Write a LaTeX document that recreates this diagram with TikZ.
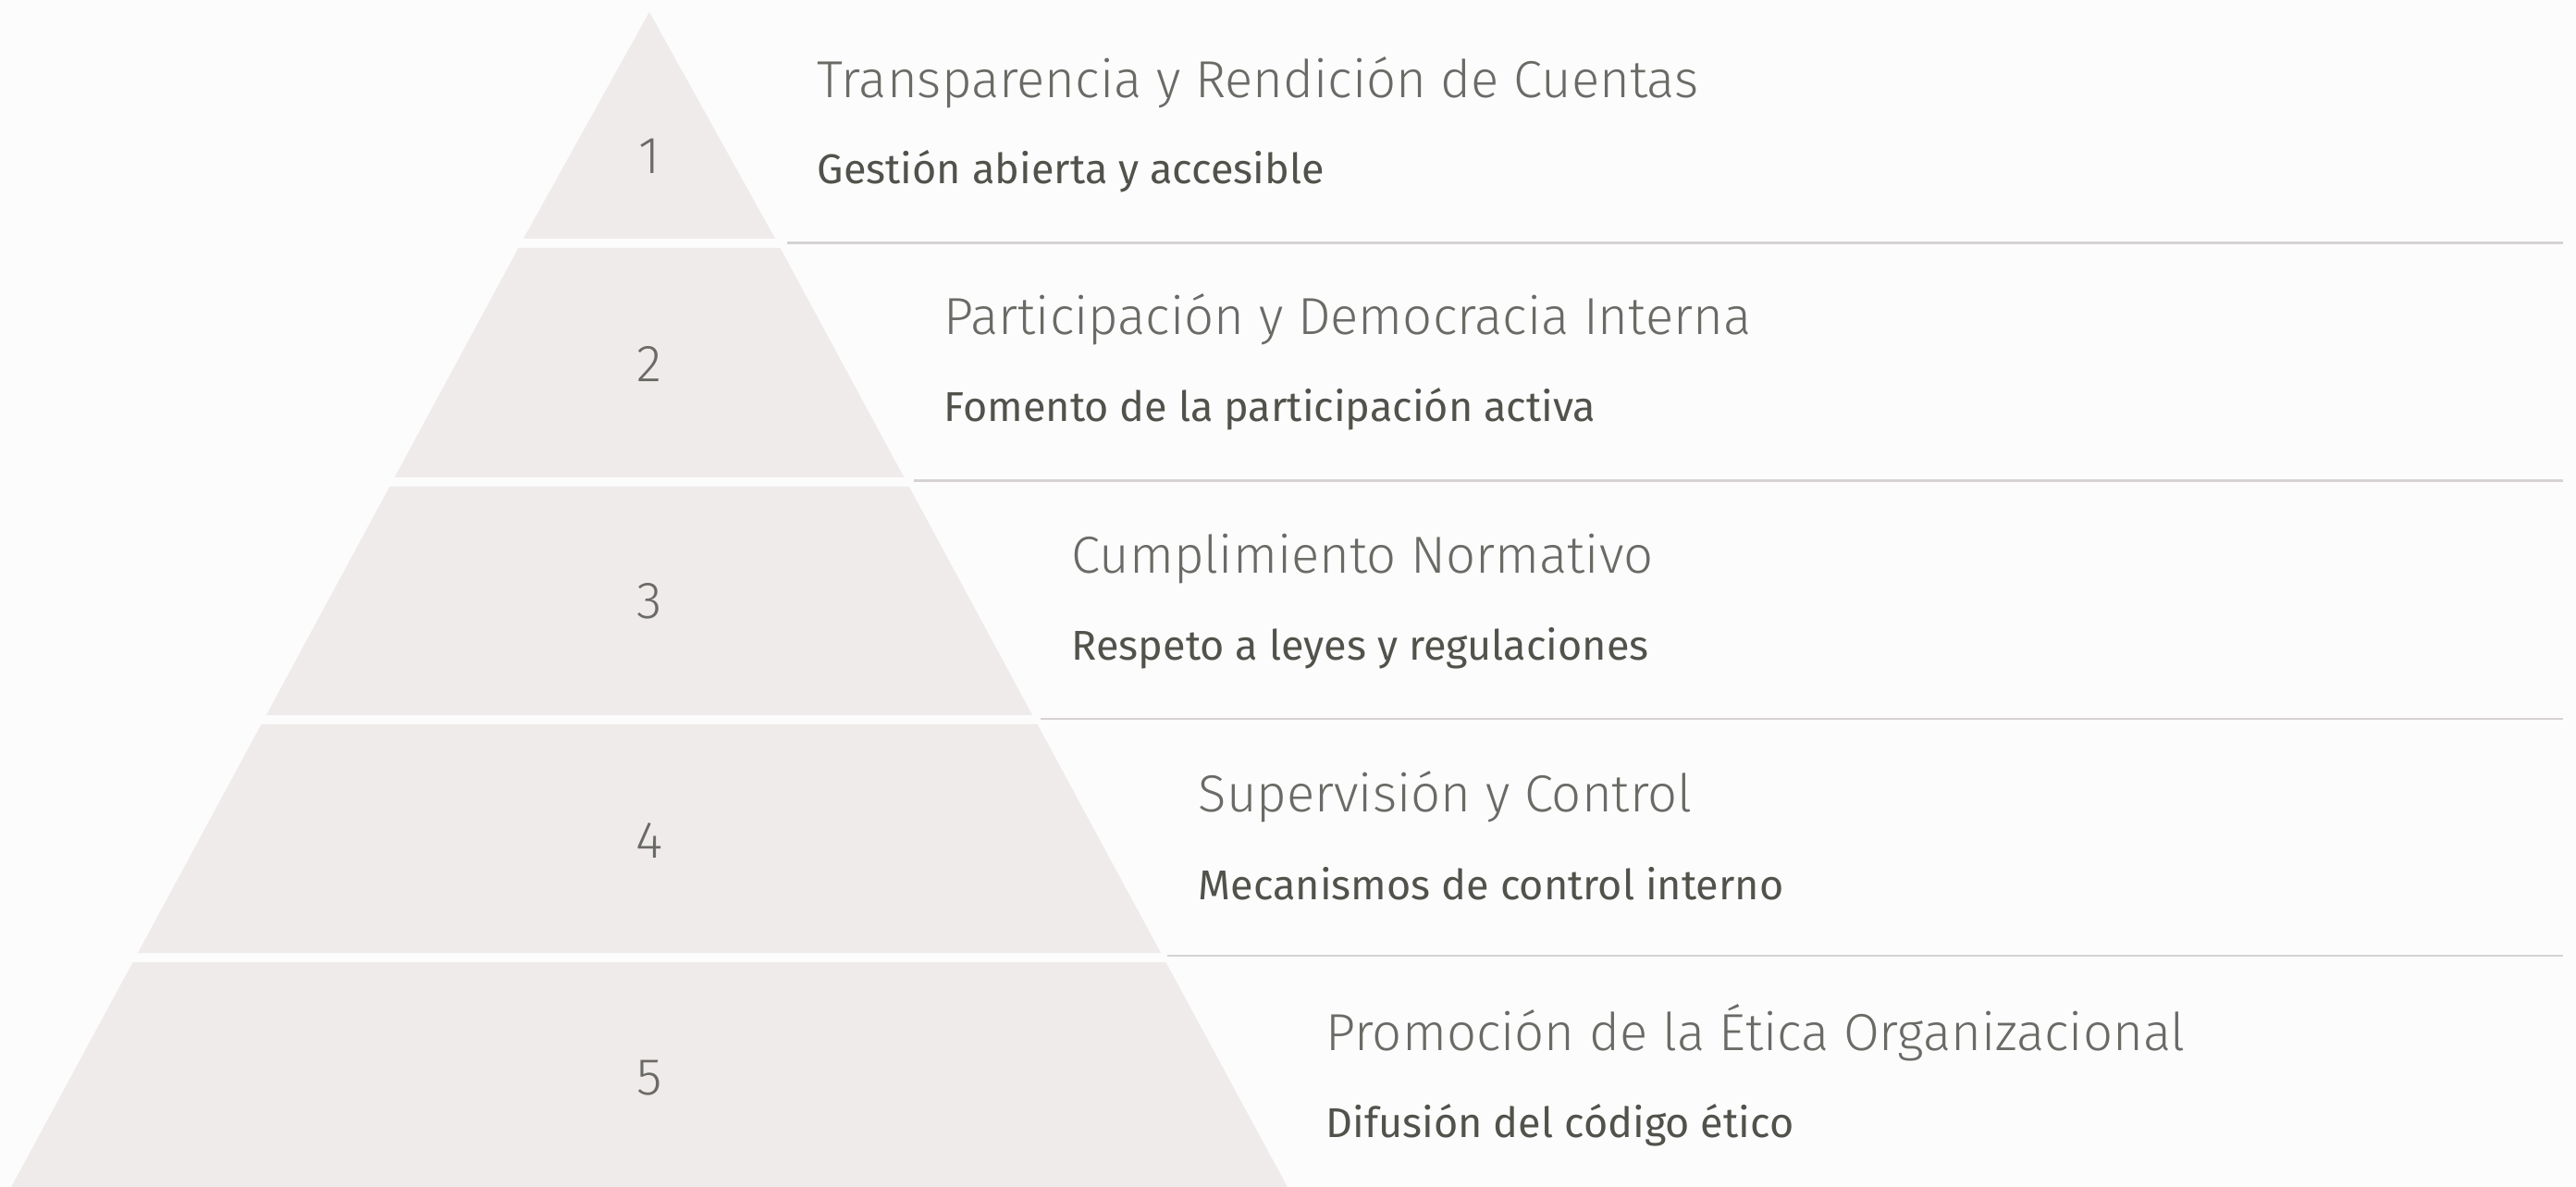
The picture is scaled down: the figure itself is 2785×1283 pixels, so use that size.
\documentclass[tikz,border=0pt]{standalone}
\usepackage{fontspec}
\setmainfont{Fira Sans}
\newfontfamily\thinfont{Fira Sans Light}
\definecolor{pyrbg}{HTML}{FCFCFC}
\definecolor{pyrfill}{HTML}{F0EBEB}
\definecolor{pyrline}{HTML}{D6D2D2}
\definecolor{pyrtext}{HTML}{6A6A66}
\definecolor{pyrsub}{HTML}{52524C}

\begin{document}
\begin{tikzpicture}[x=0.01cm, y=-0.01cm,
          tier/.style={fill=pyrfill, draw=none},
          sep/.style={draw=pyrline, line width=0.85pt},
          num/.style={font=\thinfont\fontsize{16}{16}\selectfont, color=pyrtext, inner sep=0pt},
          ttl/.style={font=\thinfont\fontsize{16}{16}\selectfont, color=pyrtext, anchor=base west, inner sep=0pt},
          sub/.style={font=\fontsize{12.8}{13}\selectfont, color=pyrsub, anchor=base west, inner sep=0pt}]
          \fill[pyrbg] (0,0) rectangle (2785,1283);
          \useasboundingbox (0,0) rectangle (2785,1283);
          % pyramid tiers
          \fill[tier] (702,13) -- (838.1,258) -- (565.9,258) -- cycle;
          \fill[tier] (560.5,268) -- (843.5,268) -- (977.4,516) -- (426.6,516) -- cycle;
          \fill[tier] (421.2,526) -- (982.8,526) -- (1116.2,773) -- (287.8,773) -- cycle;
          \fill[tier] (282.4,783) -- (1121.6,783) -- (1255,1030) -- (149,1030) -- cycle;
          \begin{scope}
            \clip (0,0) rectangle (2785,1283);
            \fill[tier] (143.6,1040) -- (1260.4,1040) -- (1400,1298) -- (4,1298) -- cycle;
          \end{scope}
          % separators
          \draw[sep] (851,263) -- (2771,263);
          \draw[sep] (988,520) -- (2771,520);
          \draw[sep] (1125,777) -- (2771,777);
          \draw[sep] (1262,1033) -- (2771,1033);
          % numbers
          \node[num] (n1) at (702,169) {1};
          \node[num] (n2) at (702,393) {2};
          \node[num] (n3) at (702,650) {3};
          \node[num] (n4) at (702,908) {4};
          \node[num] (n5) at (702,1165) {5};
          % titles and subtitles
          \node[ttl] (t1) at (883,106) {Transparencia y Rendición de Cuentas};
          \node[sub] (s1) at (883,199) {Gestión abierta y accesible};
          \node[ttl] (t2) at (1020,362) {Participación y Democracia Interna};
          \node[sub] (s2) at (1020,456) {Fomento de la participación activa};
          \node[ttl] (t3) at (1158,620) {Cumplimiento Normativo};
          \node[sub] (s3) at (1158,714) {Respeto a leyes y regulaciones};
          \node[ttl] (t4) at (1295,877) {Supervisión y Control};
          \node[sub] (s4) at (1295,972) {Mecanismos de control interno};
          \node[ttl] (t5) at (1433,1135) {Promoción de la Ética Organizacional};
          \node[sub] (s5) at (1433,1229) {Difusión del código ético};
        \end{tikzpicture}
\end{document}
